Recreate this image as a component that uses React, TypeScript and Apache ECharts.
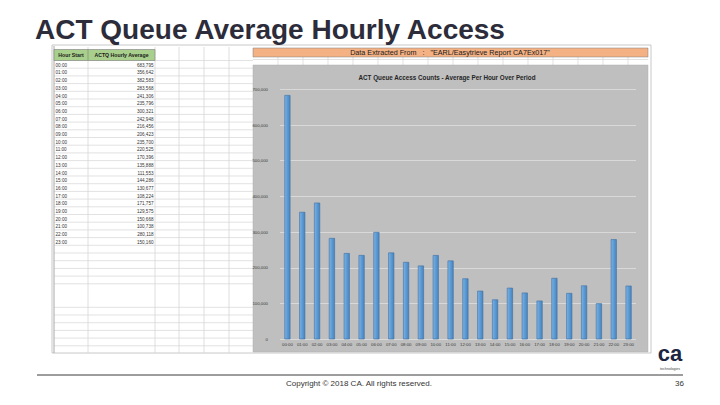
import React, { useEffect, useRef } from "react";
import * as echarts from "echarts";

const hours = [
  "00:00", "01:00", "02:00", "03:00", "04:00", "05:00", "06:00", "07:00",
  "08:00", "09:00", "10:00", "11:00", "12:00", "13:00", "14:00", "15:00",
  "16:00", "17:00", "18:00", "19:00", "20:00", "21:00", "22:00", "23:00",
];
const averages = [
  683795, 356642, 382583, 283568, 241306, 235796, 300321, 242948,
  216456, 206423, 235700, 220525, 170396, 135888, 111553, 144286,
  130677, 108224, 171757, 129575, 150668, 100738, 280118, 150160,
];
const yMin = 0;
const yMax = 700000;
const yStep = 100000;

const slideTitle = "ACT Queue Average Hourly Access";
const chartTitle = "ACT Queue Access Counts - Average Per Hour Over Period";
const sourceNote = "Data Extracted From   :   \"EARL/Easytrieve Report CA7Ex017\"";
const tableHeaders = ["Hour Start", "ACTQ Hourly Average"];
const copyright = "Copyright © 2018 CA. All rights reserved.";
const pageNo = "36";

const SHEET_FONT = "Liberation Sans";

function buildGraphics() {
  const g: any[] = [];
  // sheet background
  g.push({ type: "rect", z: -20, shape: { x: 52, y: 45, width: 599, height: 308 }, style: { fill: "#ffffff", stroke: "#c8c8c8", lineWidth: 1 } });
  // horizontal grid lines of the left part
  const hy: number[] = [];
  for (let y = 60.5; y <= 285; y += 7.7) hy.push(y);
  for (let y = 307.3; y <= 353; y += 7.7) hy.push(y);
  hy.forEach((y) => {
    g.push({ type: "line", z: -19, shape: { x1: 54, y1: y, x2: 253, y2: y }, style: { stroke: "#d6d6d6", lineWidth: 0.7 } });
  });
  [88, 155, 179, 204, 229].forEach((x) => {
    g.push({ type: "line", z: -19, shape: { x1: x, y1: 47, x2: x, y2: 353 }, style: { stroke: "#d6d6d6", lineWidth: 0.8 } });
  });
  g.push({ type: "line", z: -18, shape: { x1: 54, y1: 46, x2: 54, y2: 353 }, style: { stroke: "#a8a8a8", lineWidth: 1 } });
  // columns above chart
  for (let x = 278; x < 648; x += 25) {
    g.push({ type: "line", z: -19, shape: { x1: x, y1: 57, x2: x, y2: 65 }, style: { stroke: "#d6d6d6", lineWidth: 0.7 } });
  }
  // header cells (green)
  g.push({ type: "rect", z: -17, shape: { x: 54, y: 49.5, width: 101, height: 11 }, style: { fill: "#a9cf8c", stroke: "#7d7d7d", lineWidth: 0.6 } });
  g.push({ type: "line", z: -16, shape: { x1: 88, y1: 49.5, x2: 88, y2: 60.5 }, style: { stroke: "#7d7d7d", lineWidth: 0.6 } });
  g.push({ type: "text", z: 5, style: { x: 71, y: 55, text: tableHeaders[0], fontSize: 5.2, fontWeight: "bold", fontFamily: SHEET_FONT, fill: "#1a1a1a", align: "center", verticalAlign: "middle" } });
  g.push({ type: "text", z: 5, style: { x: 121.5, y: 55, text: tableHeaders[1], fontSize: 5.2, fontWeight: "bold", fontFamily: SHEET_FONT, fill: "#1a1a1a", align: "center", verticalAlign: "middle" } });
  // table rows
  hours.forEach((h, i) => {
    const y = 65.2 + i * 7.7;
    g.push({ type: "text", z: 5, style: { x: 55.5, y, text: h, fontSize: 4.6, fontFamily: SHEET_FONT, fill: "#333333", align: "left", verticalAlign: "middle" } });
    g.push({ type: "text", z: 5, style: { x: 153.5, y, text: averages[i].toLocaleString("en-US"), fontSize: 4.6, fontFamily: SHEET_FONT, fill: "#333333", align: "right", verticalAlign: "middle" } });
  });
  // orange source band
  g.push({ type: "rect", z: -17, shape: { x: 253, y: 48, width: 395, height: 9 }, style: { fill: "#f4b183", stroke: "#7d7d7d", lineWidth: 0.5 } });
  g.push({ type: "text", z: 5, style: { x: 450, y: 52.6, text: sourceNote, fontSize: 7.2, fontFamily: SHEET_FONT, fill: "#1a1a1a", align: "center", verticalAlign: "middle" } });
  g.push({ type: "line", z: -19, shape: { x1: 253, y1: 59.5, x2: 648, y2: 59.5 }, style: { stroke: "#d6d6d6", lineWidth: 0.7 } });
  // chart area background
  g.push({ type: "rect", z: -15, shape: { x: 253, y: 65, width: 395, height: 287 }, style: { fill: "#bfbfbf", stroke: "#b0b0b0", lineWidth: 0.5 } });
  g.push({ type: "text", z: 5, style: { x: 447, y: 77.5, text: chartTitle, fontSize: 6.3, fontWeight: "bold", fontFamily: SHEET_FONT, fill: "#262626", align: "center", verticalAlign: "middle" } });
  // slide title
  g.push({ type: "text", z: 5, style: { x: 35, y: 29.5, text: slideTitle, fontSize: 28, fontWeight: "bold", fontFamily: "Liberation Sans", fill: "#2c2c3a", align: "left", verticalAlign: "middle" } });
  // footer
  g.push({ type: "line", z: 5, shape: { x1: 37, y1: 375, x2: 683, y2: 375 }, style: { stroke: "#3a3a3a", lineWidth: 1 } });
  g.push({ type: "text", z: 5, style: { x: 359, y: 383, text: copyright, fontSize: 8, fontFamily: "Liberation Sans", fill: "#333333", align: "center", verticalAlign: "middle" } });
  g.push({ type: "text", z: 5, style: { x: 684, y: 383, text: pageNo, fontSize: 8, fontFamily: "Liberation Sans", fill: "#333333", align: "right", verticalAlign: "middle" } });
  // logo
  g.push({ type: "text", z: 5, style: { x: 670, y: 353.5, text: "ca", fontSize: 22, fontWeight: "bold", fontFamily: "Liberation Sans", fill: "#1c2541", align: "center", verticalAlign: "middle" } });
  g.push({ type: "text", z: 5, style: { x: 670, y: 368.5, text: "technologies", fontSize: 3.6, fontFamily: "Liberation Sans", fill: "#444444", align: "center", verticalAlign: "middle" } });
  return g;
}

export default function App() {
  const ref = useRef<HTMLDivElement>(null);
  useEffect(() => {
    if (!ref.current) return;
    const chart = echarts.init(ref.current, null, { renderer: "svg" });
    chart.setOption({
      animation: false,
      backgroundColor: "#ffffff",
      graphic: { elements: buildGraphics() },
      grid: { left: 280, top: 89.3, width: 356, height: 250, containLabel: false },
      xAxis: {
        type: "category",
        data: hours,
        axisLine: { show: false },
        axisTick: { show: false },
        axisLabel: { fontSize: 4.3, color: "#3a3a3a", margin: 3, interval: 0, fontFamily: SHEET_FONT },
      },
      yAxis: {
        type: "value",
        min: yMin,
        max: yMax,
        interval: yStep,
        axisLine: { show: false },
        axisTick: { show: false },
        splitLine: { lineStyle: { color: "#d9d9d9", width: 1 } },
        axisLabel: {
          fontSize: 4.3,
          color: "#3a3a3a",
          margin: 12,
          fontFamily: SHEET_FONT,
          formatter: (v: number) => v.toLocaleString("en-US"),
        },
      },
      series: [
        {
          type: "bar",
          data: averages,
          barWidth: 6,
          itemStyle: {
            color: new echarts.graphic.LinearGradient(0, 0, 1, 0, [
              { offset: 0, color: "#7fb2e3" },
              { offset: 0.5, color: "#5b9bd5" },
              { offset: 1, color: "#4a84bd" },
            ]),
            borderColor: "#3d6fa3",
            borderWidth: 0.6,
          },
        },
      ],
    });
    return () => chart.dispose();
  }, []);
  return (
    <div
      ref={ref}
      style={{ position: "fixed", left: 0, top: 0, width: 720, height: 405 }}
    />
  );
}
